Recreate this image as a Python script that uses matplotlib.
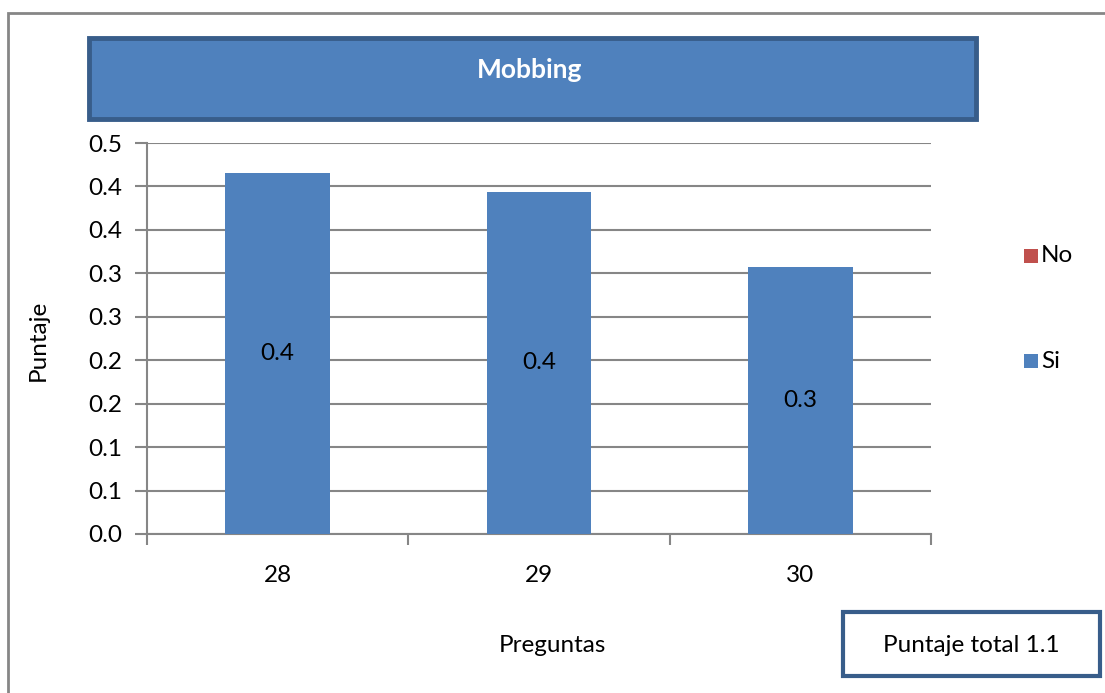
import matplotlib
matplotlib.use("Agg")
import matplotlib.pyplot as plt
from matplotlib.patches import Rectangle
from decimal import Decimal, ROUND_HALF_UP
import numpy as np

# DATA
preguntas = ["28", "29", "30"]
si_vals = [0.415, 0.394, 0.307]
no_vals = [0.0, 0.0, 0.0]
y_ticks = [0.0, 0.05, 0.10, 0.15, 0.20, 0.25, 0.30, 0.35, 0.40, 0.45]
series_names = ["No", "Si"]

BLUE = "#4F81BD"
DARK_BLUE = "#385D8A"
RED = "#C0504D"
GRAY = "#868686"
FONT = "Lato"
FS = 17.5

W, H = 1105, 693


def fmt1(v):
    # Excel-style rounding to one decimal (half up)
    d = Decimal(str(round(v, 3))).quantize(Decimal("0.1"), rounding=ROUND_HALF_UP)
    return str(d)


def fx(px):
    return px / W


def fy(py):
    return 1 - py / H


plt.rcParams["font.family"] = [FONT, "DejaVu Sans"]
fig = plt.figure(figsize=(W / 100, H / 100), dpi=100)

# outer frame of the chart area
fig.patches.append(Rectangle((fx(8), fy(700)), 1.1, fy(13) - fy(700),
                             transform=fig.transFigure, facecolor="none",
                             edgecolor=GRAY, linewidth=2, zorder=0))

# title box
fig.patches.append(Rectangle((fx(89), fy(119)), fx(976) - fx(89), fy(38) - fy(119),
                             transform=fig.transFigure, facecolor=BLUE,
                             edgecolor=DARK_BLUE, linewidth=3.5, zorder=1))
fig.text(fx(530), fy(70), "Mobbing", color="white", fontsize=19,
         fontweight="bold", ha="center", va="center")

ax = fig.add_axes([fx(147), fy(534), fx(931) - fx(147), fy(143) - fy(534)])
x = np.arange(len(preguntas))
bars_si = ax.bar(x, si_vals, width=0.4, color=BLUE, zorder=3, label="Si")
bars_no = ax.bar(x, no_vals, width=0.4, bottom=si_vals, color=RED, zorder=3, label="No")

for b, v in zip(bars_si, si_vals):
    ax.text(b.get_x() + b.get_width() / 2, v / 2, fmt1(v), ha="center",
            va="center", fontsize=FS, color="black", zorder=4)

ax.set_xlim(-0.5, len(preguntas) - 0.5)
ax.set_ylim(0, y_ticks[-1])
ax.set_yticks(y_ticks)
ax.set_yticklabels([fmt1(t) for t in y_ticks])
ax.yaxis.grid(True, color=GRAY, linewidth=1.5, zorder=0)
ax.set_axisbelow(True)

ax.set_xticks(np.arange(-0.5, len(preguntas), 1.0))
ax.set_xticklabels([])
ax.set_xticks(x, minor=True)
ax.set_xticklabels(preguntas, minor=True)
ax.tick_params(axis="x", which="major", direction="out", length=8,
               width=1.5, color=GRAY)
ax.tick_params(axis="x", which="minor", length=0, pad=22, labelsize=FS)
ax.tick_params(axis="y", direction="out", length=9, width=1.5, color=GRAY,
               pad=9, labelsize=FS)

for s in ["top", "right"]:
    ax.spines[s].set_visible(False)
for s in ["left", "bottom"]:
    ax.spines[s].set_color(GRAY)
    ax.spines[s].set_linewidth(1.5)

fig.text(fx(38), fy(340), "Puntaje", rotation=90, fontsize=FS,
         ha="center", va="center")
fig.text(fx(552), fy(645), "Preguntas", fontsize=FS, ha="center", va="center")

# legend, drawn as in the original (No above Si)
legend_colors = {"No": RED, "Si": BLUE}
legend_y = {"No": 256, "Si": 361}
for name in series_names:
    yc = legend_y[name]
    fig.patches.append(Rectangle((fx(1024), fy(yc + 7)), fx(14), fx(14) * W / H,
                                 transform=fig.transFigure,
                                 facecolor=legend_colors[name], edgecolor="none"))
    fig.text(fx(1041), fy(yc), name, fontsize=FS, ha="left", va="center")

# total box
total = sum(si_vals)
fig.patches.append(Rectangle((fx(843), fy(676)), fx(1100) - fx(843), fy(612) - fy(676),
                             transform=fig.transFigure, facecolor="white",
                             edgecolor=DARK_BLUE, linewidth=3, zorder=1))
fig.text(fx(971), fy(645), f"Puntaje total {fmt1(total)}", fontsize=FS,
         ha="center", va="center", zorder=2)

fig.savefig("out.png", dpi=100)
